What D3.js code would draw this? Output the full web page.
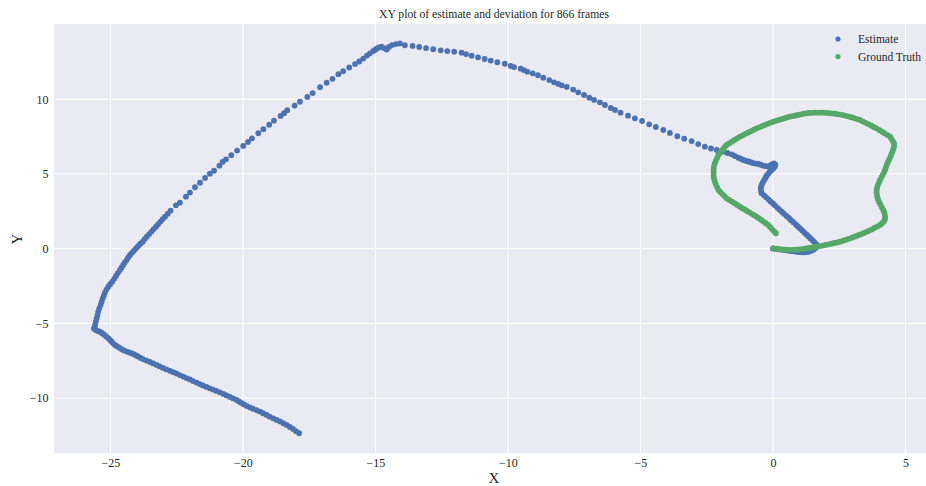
<!DOCTYPE html>
<html>
<head>
<meta charset="utf-8">
<script src="https://cdn.jsdelivr.net/npm/d3@7"></script>
<style>
  html, body { margin: 0; padding: 0; background: #ffffff; }
  svg { display: block; font-family: "Liberation Serif", "Times New Roman", serif; }
</style>
</head>
<body>
<svg id="chart" width="926" height="486"></svg>
<script>
// Chart text
const title = "XY plot of estimate and deviation for 866 frames";
const xLabel = "X";
const yLabel = "Y";
const seriesNames = ["Estimate", "Ground Truth"];
const xTicks = [-25, -20, -15, -10, -5, 0, 5];
const yTicks = [-10, -5, 0, 5, 10];

// Estimated trajectory, [x, y] per frame (subset)
const estimate = [
  [0.00,0.00],[0.12,-0.02],[0.24,-0.05],[0.36,-0.08],[0.48,-0.11],[0.60,-0.14],[0.72,-0.17],[0.84,-0.20],[0.96,-0.23],[1.08,-0.25],[1.20,-0.25],[1.32,-0.22],[1.43,-0.16],[1.53,-0.07],[1.61,0.04],[1.65,0.17],[1.64,0.29],
  [1.56,0.44],[1.49,0.57],[1.41,0.70],[1.33,0.83],[1.26,0.95],[1.18,1.08],[1.10,1.22],[1.02,1.35],[0.94,1.49],[0.86,1.62],[0.77,1.77],[0.68,1.90],[0.60,2.05],[0.51,2.19],[0.42,2.33],[0.34,2.46],[0.25,2.60],[0.17,2.73],[0.08,2.88],[0.00,3.02],[-0.09,3.16],[-0.17,3.30],[-0.26,3.44],[-0.34,3.57],[-0.43,3.71],
  [-0.45,3.85],[-0.46,4.00],[-0.45,4.15],[-0.42,4.30],[-0.38,4.45],[-0.33,4.60],[-0.28,4.75],[-0.24,4.88],[-0.18,5.02],[-0.12,5.15],[-0.05,5.27],[0.02,5.38],[0.07,5.50],[0.09,5.62],[0.04,5.70],[-0.04,5.64],
  [-0.10,5.55],[-0.18,5.50],[-0.27,5.52],[-0.37,5.55],[-0.46,5.62],[-0.55,5.67],[-0.65,5.69],[-0.74,5.72],[-0.84,5.78],[-0.93,5.83],[-1.03,5.88],[-1.12,5.94],[-1.22,6.02],[-1.31,6.09],[-1.44,6.20],[-1.56,6.31],[-1.72,6.40],[-1.88,6.49],[-2.12,6.60],[-2.34,6.70],[-2.57,6.82],[-2.82,7.00],[-3.07,7.20],
  [-3.35,7.36],[-3.61,7.52],[-3.89,7.74],[-4.14,7.94],[-4.42,8.14],[-4.67,8.32],[-4.94,8.54],[-5.21,8.72],[-5.47,8.90],[-5.75,9.10],[-5.96,9.28],[-6.12,9.41],[-6.34,9.61],[-6.53,9.79],[-6.75,9.95],[-6.93,10.10],[-7.13,10.28],[-7.35,10.46],[-7.54,10.64],[-7.78,10.82],[-7.97,10.93],[-8.10,11.02],[-8.26,11.13],[-8.44,11.28],[-8.67,11.44],[-8.87,11.60],[-9.07,11.73],[-9.27,11.84],[-9.40,11.95],[-9.52,12.04],[-9.77,12.15],[-9.90,12.22],[-10.12,12.37],[-10.40,12.47],[-10.65,12.58],[-10.88,12.69],[-11.13,12.80],[-11.37,12.91],[-11.58,13.02],[-11.75,13.11],[-12.03,13.18],[-12.29,13.22],[-12.54,13.27],[-12.82,13.34],[-13.09,13.42],[-13.35,13.49],[-13.60,13.56],[-13.89,13.61],
  [-14.08,13.73],[-14.23,13.69],[-14.38,13.62],[-14.49,13.49],[-14.58,13.32],[-14.68,13.42],[-14.77,13.51],[-14.87,13.46],[-14.94,13.39],[-15.02,13.29],[-15.09,13.22],[-15.21,13.07],[-15.32,12.92],[-15.46,12.72],[-15.61,12.52],[-15.77,12.35],[-15.99,12.12],[-16.22,11.87],[-16.40,11.67],[-16.62,11.36],[-16.84,11.10],[-17.09,10.80],[-17.37,10.41],[-17.57,10.15],[-17.85,9.83],[-18.05,9.57],[-18.33,9.26],[-18.45,9.06],[-18.58,8.88],[-18.83,8.56],[-19.01,8.29],[-19.23,7.99],[-19.42,7.72],[-19.66,7.38],[-19.81,7.14],[-19.99,6.87],[-20.22,6.56],[-20.44,6.25],[-20.64,5.98],[-20.77,5.80],[-20.89,5.55],[-21.09,5.22],[-21.25,5.02],[-21.43,4.73],[-21.62,4.41],[-21.81,4.11],[-22.00,3.75],[-22.15,3.48],[-22.38,3.08],[-22.53,2.90],
  [-22.73,2.54],[-22.84,2.34],[-22.94,2.14],[-23.03,1.98],[-23.11,1.81],[-23.20,1.64],[-23.28,1.47],[-23.37,1.31],[-23.45,1.14],[-23.54,0.97],[-23.63,0.80],[-23.71,0.64],[-23.78,0.47],[-23.87,0.33],[-23.95,0.18],[-24.03,0.03],[-24.11,-0.13],[-24.19,-0.28],[-24.26,-0.42],[-24.33,-0.59],[-24.39,-0.76],[-24.46,-0.93],[-24.52,-1.09],[-24.58,-1.26],[-24.64,-1.42],[-24.72,-1.63],[-24.79,-1.83],[-24.86,-2.02],[-24.93,-2.21],[-25.01,-2.38],[-25.08,-2.54],[-25.15,-2.74],[-25.21,-2.94],[-25.25,-3.13],[-25.29,-3.32],[-25.33,-3.55],[-25.37,-3.77],[-25.42,-3.99],[-25.46,-4.21],[-25.49,-4.44],[-25.52,-4.66],[-25.55,-4.88],[-25.58,-5.10],[-25.62,-5.32],
  [-25.60,-5.38],[-25.55,-5.44],[-25.48,-5.50],[-25.40,-5.55],[-25.33,-5.64],[-25.25,-5.74],[-25.17,-5.86],[-25.08,-5.99],[-25.02,-6.10],[-24.96,-6.21],[-24.90,-6.33],[-24.83,-6.44],[-24.76,-6.53],[-24.68,-6.61],[-24.60,-6.70],[-24.52,-6.78],[-24.43,-6.85],[-24.34,-6.91],[-24.24,-6.98],[-24.14,-7.04],[-24.05,-7.13],[-23.96,-7.21],[-23.86,-7.31],[-23.76,-7.40],[-23.64,-7.49],[-23.51,-7.58],[-23.39,-7.68],[-23.26,-7.78],[-23.14,-7.88],[-23.02,-7.98],[-22.89,-8.08],[-22.75,-8.17],[-22.63,-8.26],[-22.51,-8.35],[-22.38,-8.46],[-22.25,-8.56],[-22.13,-8.66],[-22.00,-8.75],[-21.88,-8.86],[-21.75,-8.96],[-21.63,-9.06],[-21.51,-9.15],[-21.38,-9.25],[-21.25,-9.34],[-21.13,-9.43],[-21.00,-9.52],[-20.87,-9.62],[-20.74,-9.72],[-20.62,-9.82],[-20.49,-9.92],[-20.37,-10.02],[-20.24,-10.12],[-20.15,-10.22],[-20.06,-10.32],[-19.96,-10.42],[-19.86,-10.52],[-19.74,-10.62],[-19.62,-10.71],[-19.49,-10.81],[-19.36,-10.90],[-19.24,-11.01],[-19.11,-11.12],[-18.99,-11.24],[-18.86,-11.35],[-18.73,-11.46],[-18.60,-11.56],[-18.48,-11.68],[-18.35,-11.79],[-18.23,-11.93],[-18.11,-12.06],[-18.00,-12.21],[-17.88,-12.35]
];

// Ground-truth trajectory, [x, y] per frame (subset)
const groundTruth = [
  [0.01,0.03],[0.13,0.00],[0.25,-0.03],[0.38,-0.05],[0.51,-0.07],[0.64,-0.08],
  [0.76,-0.08],[0.87,-0.07],[0.98,-0.05],[1.09,-0.03],[1.20,0.00],[1.31,0.03],[1.42,0.06],[1.53,0.10],[1.65,0.13],
  [1.76,0.17],[1.87,0.21],[1.98,0.25],[2.09,0.29],[2.20,0.33],[2.31,0.38],[2.42,0.42],[2.53,0.47],
  [2.64,0.53],[2.75,0.59],[2.86,0.66],[2.97,0.73],[3.08,0.80],[3.19,0.88],[3.30,0.95],[3.41,1.03],
  [3.51,1.11],[3.62,1.20],[3.73,1.29],[3.83,1.39],[3.94,1.49],[4.04,1.59],
  [4.12,1.70],[4.18,1.82],[4.22,1.95],[4.23,2.10],[4.22,2.26],[4.20,2.42],[4.16,2.59],
  [4.11,2.76],[4.06,2.93],[4.01,3.10],[3.97,3.26],[3.94,3.43],[3.92,3.60],[3.91,3.77],[3.91,3.93],[3.93,4.10],[3.96,4.27],[4.00,4.44],[4.04,4.60],
  [4.09,4.77],[4.14,4.94],[4.19,5.11],[4.23,5.28],[4.26,5.44],[4.29,5.60],[4.34,5.80],[4.39,5.99],[4.44,6.19],[4.48,6.38],[4.52,6.55],[4.55,6.72],[4.57,6.88],[4.57,7.05],[4.52,7.20],[4.47,7.35],[4.42,7.49],
  [4.32,7.60],[4.22,7.71],[4.12,7.82],[4.02,7.93],[3.91,8.05],
  [3.80,8.14],[3.70,8.24],[3.60,8.33],[3.49,8.43],[3.38,8.52],[3.28,8.61],
  [3.17,8.67],[3.07,8.73],[2.96,8.79],[2.86,8.84],[2.75,8.89],[2.65,8.94],
  [2.54,8.97],[2.43,9.00],[2.33,9.03],[2.22,9.05],[2.11,9.07],[2.01,9.09],[1.90,9.10],
  [1.79,9.10],[1.69,9.10],[1.58,9.10],[1.48,9.09],[1.37,9.08],[1.27,9.06],
  [1.16,9.03],[1.06,8.99],[0.95,8.95],[0.85,8.91],[0.74,8.87],[0.64,8.83],
  [0.53,8.78],[0.43,8.72],[0.32,8.66],[0.22,8.61],[0.11,8.55],[0.01,8.49],
  [-0.10,8.42],[-0.20,8.35],[-0.31,8.27],[-0.41,8.20],[-0.52,8.12],[-0.62,8.05],
  [-0.72,7.96],[-0.83,7.86],[-0.93,7.77],[-1.04,7.68],[-1.14,7.58],[-1.25,7.49],
  [-1.35,7.38],[-1.45,7.27],[-1.55,7.16],[-1.65,7.05],[-1.75,6.94],
  [-1.82,6.80],[-1.88,6.67],[-1.94,6.54],[-2.00,6.40],[-2.06,6.27],
  [-2.11,6.07],[-2.16,5.87],[-2.20,5.68],[-2.23,5.48],
  [-2.24,5.29],[-2.24,5.10],[-2.24,4.90],[-2.23,4.71],
  [-2.20,4.51],[-2.16,4.32],[-2.11,4.12],[-2.06,3.93],
  [-1.99,3.79],[-1.91,3.65],[-1.83,3.51],[-1.75,3.37],
  [-1.65,3.26],[-1.55,3.15],[-1.45,3.04],[-1.35,2.92],[-1.25,2.81],
  [-1.16,2.71],[-1.07,2.62],[-0.98,2.52],[-0.89,2.43],[-0.80,2.33],[-0.71,2.24],[-0.62,2.14],
  [-0.53,2.03],[-0.44,1.92],[-0.36,1.81],[-0.27,1.70],[-0.18,1.59],
  [-0.11,1.45],[-0.04,1.31],[0.04,1.17],[0.11,1.03]
];

const colors = ["#4c72b0", "#55a868"];

const svg = d3.select("#chart");
const plot = { left: 54, right: 932, top: 24, bottom: 453.3 };

const x = d3.scaleLinear().domain([-27.13, 6.0]).range([plot.left, plot.right]);
const y = d3.scaleLinear().domain([-13.69, 15.03]).range([plot.bottom, plot.top]);

// Axes background
svg.append("rect")
  .attr("x", plot.left).attr("y", plot.top)
  .attr("width", plot.right - plot.left).attr("height", plot.bottom - plot.top)
  .attr("fill", "#eaeaf2");

// Grid
const grid = svg.append("g").attr("stroke", "#ffffff").attr("stroke-width", 1);
grid.selectAll(".gx").data(xTicks).join("line")
  .attr("x1", d => x(d)).attr("x2", d => x(d))
  .attr("y1", plot.top).attr("y2", plot.bottom);
grid.selectAll(".gy").data(yTicks).join("line")
  .attr("x1", plot.left).attr("x2", plot.right)
  .attr("y1", d => y(d)).attr("y2", d => y(d));

// Tick labels
const xAxis = svg.append("g")
  .attr("transform", `translate(0,${plot.bottom})`)
  .call(d3.axisBottom(x).tickValues(xTicks).tickSize(0).tickPadding(5));
const yAxis = svg.append("g")
  .attr("transform", `translate(${plot.left},0)`)
  .call(d3.axisLeft(y).tickValues(yTicks).tickSize(0).tickPadding(5.5));
[xAxis, yAxis].forEach(g => {
  g.select(".domain").remove();
  g.attr("font-family", "Liberation Serif, Times New Roman, serif").attr("font-size", 12);
  g.selectAll("text").attr("fill", "#262626");
});

// Scatter points
svg.append("clipPath").attr("id", "plotClip").append("rect")
  .attr("x", plot.left).attr("y", plot.top)
  .attr("width", plot.right - plot.left).attr("height", plot.bottom - plot.top);
const marks = svg.append("g").attr("clip-path", "url(#plotClip)");
[estimate, groundTruth].forEach((series, i) => {
  marks.append("g").attr("fill", colors[i])
    .selectAll("circle").data(series).join("circle")
    .attr("cx", d => x(d[0])).attr("cy", d => y(d[1])).attr("r", 2.9);
});

// Title and axis labels
svg.append("text").attr("x", 494).attr("y", 18).attr("text-anchor", "middle")
  .attr("font-size", 11.7).attr("fill", "#262626").text(title);
svg.append("text").attr("x", 494).attr("y", 483).attr("text-anchor", "middle")
  .attr("font-size", 15).attr("fill", "#262626").text(xLabel);
svg.append("text").attr("transform", "translate(21.5,239) rotate(-90)").attr("text-anchor", "middle")
  .attr("font-size", 15).attr("fill", "#262626").text(yLabel);

// Legend
const legend = svg.append("g");
seriesNames.forEach((name, i) => {
  const yy = 39 + i * 17.5;
  legend.append("circle").attr("cx", 838).attr("cy", yy).attr("r", 2.6).attr("fill", colors[i]);
  legend.append("text").attr("x", 858).attr("y", yy).attr("dy", "0.35em")
    .attr("font-size", 11.5).attr("fill", "#262626").text(name);
});
</script>
</body>
</html>
